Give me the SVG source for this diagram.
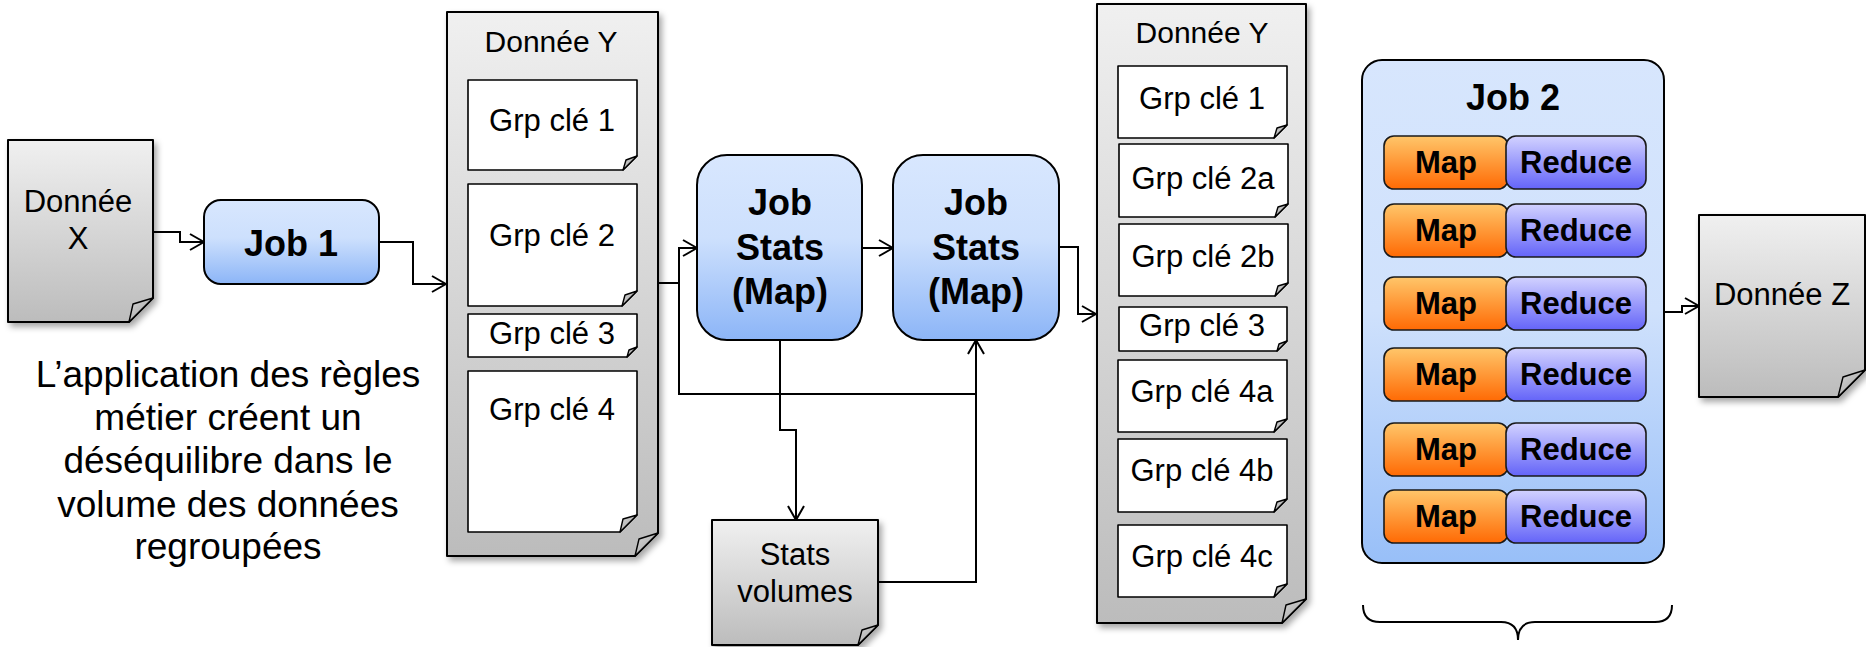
<svg xmlns="http://www.w3.org/2000/svg" width="1866" height="647" viewBox="0 0 1866 647">
  <defs>
    <linearGradient id="docGrad" x1="0" y1="0" x2="0" y2="1">
      <stop offset="0" stop-color="#f0f0f0"/>
      <stop offset="1" stop-color="#bcbcbc"/>
    </linearGradient>
    <linearGradient id="foldGrad" x1="0" y1="0" x2="1" y2="1">
      <stop offset="0" stop-color="#d8d8d8"/>
      <stop offset="1" stop-color="#9c9c9c"/>
    </linearGradient>
    <linearGradient id="jobGrad" x1="0" y1="0" x2="0" y2="1">
      <stop offset="0" stop-color="#d8e7fe"/>
      <stop offset="0.45" stop-color="#cde0fd"/>
      <stop offset="1" stop-color="#8cb5f7"/>
    </linearGradient>
    <linearGradient id="job2Grad" x1="0" y1="0" x2="0" y2="1">
      <stop offset="0" stop-color="#d7e6fd"/>
      <stop offset="0.5" stop-color="#cfe1fc"/>
      <stop offset="1" stop-color="#98bff8"/>
    </linearGradient>
    <linearGradient id="mapGrad" x1="0" y1="0" x2="0" y2="1">
      <stop offset="0" stop-color="#ffc66a"/>
      <stop offset="1" stop-color="#ff6a04"/>
    </linearGradient>
    <linearGradient id="redGrad" x1="0" y1="0" x2="0" y2="1">
      <stop offset="0" stop-color="#d2d2ff"/>
      <stop offset="1" stop-color="#6464f8"/>
    </linearGradient>
    <filter id="shadow" x="-10%" y="-10%" width="130%" height="130%">
      <feDropShadow dx="3" dy="4" stdDeviation="3" flood-color="#000" flood-opacity="0.35"/>
    </filter>
    <marker id="arrow" viewBox="0 0 16 18" refX="15" refY="9" markerWidth="16" markerHeight="18" markerUnits="userSpaceOnUse" orient="auto">
      <path d="M1,1 L15,9 L1,17" fill="none" stroke="#000" stroke-width="2"/>
    </marker>
    <style>
      text { font-family: "Liberation Sans", Arial, sans-serif; fill: #000; text-anchor: middle; }
      .t31 { font-size: 31px; }
      .t30 { font-size: 30px; }
      .t37 { font-size: 37px; }
      .b36 { font-size: 36px; font-weight: bold; }
      .b31 { font-size: 31px; font-weight: bold; }
      .doc { fill: url(#docGrad); stroke: #000; stroke-width: 2; stroke-linejoin: round; }
      .sheet { fill: #fff; stroke: #000; stroke-width: 1.6; stroke-linejoin: round; }
      .fold { fill: url(#foldGrad); stroke: #000; stroke-width: 1.4; stroke-linejoin: round; }
      .job { fill: url(#jobGrad); stroke: #000; stroke-width: 2; }
      .job2 { fill: url(#job2Grad); stroke: #000; stroke-width: 2; }
      .map { fill: url(#mapGrad); stroke: #1a1a1a; stroke-width: 1.6; }
      .red { fill: url(#redGrad); stroke: #1a1a1a; stroke-width: 1.6; }
      .wire { fill: none; stroke: #000; stroke-width: 2; }
    </style>
  </defs>

  <!-- input data X -->
  <g id="donnee-x">
    <polygon class="doc" filter="url(#shadow)" points="8,140 153,140 153,298 129,322 8,322"/>
    <polygon class="fold" points="153,298 133,304 129,322"/>
    <text class="t31" x="78" y="212">Donnée</text>
    <text class="t31" x="78" y="249">X</text>
  </g>

  <!-- job 1 -->
  <g id="job1">
    <rect class="job" x="204" y="200" width="175" height="84" rx="17"/>
    <text class="b36" x="291" y="256">Job 1</text>
  </g>

  <!-- explanatory note -->
  <g id="note">
    <text class="t37" x="228" y="387">L’application des règles</text>
    <text class="t37" x="228" y="430">métier créent un</text>
    <text class="t37" x="228" y="473">déséquilibre dans le</text>
    <text class="t37" x="228" y="517">volume des données</text>
    <text class="t37" x="228" y="559">regroupées</text>
  </g>

  <!-- grouped data Y (unbalanced) -->
  <g id="donnee-y1">
    <polygon class="doc" filter="url(#shadow)" points="447,12 658,12 658,533 635,556 447,556"/>
    <polygon class="fold" points="658,533 639,539 635,556"/>
    <text class="t30" x="551" y="52">Donnée Y</text>
    <g id="y1-grp1">
      <polygon class="sheet" points="468,80 637,80 637,156 623,170 468,170"/>
      <polygon class="fold" points="637,156 626,160 623,170"/>
      <text class="t31" x="552" y="131">Grp clé 1</text>
    </g>
    <g id="y1-grp2">
      <polygon class="sheet" points="468,184 637,184 637,291 622,306 468,306"/>
      <polygon class="fold" points="637,291 625,295 622,306"/>
      <text class="t31" x="552" y="246">Grp clé 2</text>
    </g>
    <g id="y1-grp3">
      <polygon class="sheet" points="468,314 637,314 637,347 627,357 468,357"/>
      <polygon class="fold" points="637,347 629,350 627,357"/>
      <text class="t31" x="552" y="344">Grp clé 3</text>
    </g>
    <g id="y1-grp4">
      <polygon class="sheet" points="468,371 637,371 637,515 620,532 468,532"/>
      <polygon class="fold" points="637,515 623,519 620,532"/>
      <text class="t31" x="552" y="420">Grp clé 4</text>
    </g>
  </g>

  <!-- stats jobs -->
  <g id="job-stats-1">
    <rect class="job" x="697" y="155" width="165" height="185" rx="30"/>
    <text class="b36" x="780" y="215">Job</text>
    <text class="b36" x="780" y="260">Stats</text>
    <text class="b36" x="780" y="304">(Map)</text>
  </g>
  <g id="job-stats-2">
    <rect class="job" x="893" y="155" width="166" height="185" rx="30"/>
    <text class="b36" x="976" y="215">Job</text>
    <text class="b36" x="976" y="260">Stats</text>
    <text class="b36" x="976" y="304">(Map)</text>
  </g>

  <!-- volume statistics -->
  <g id="stats-volumes">
    <polygon class="doc" filter="url(#shadow)" points="712,520 878,520 878,625 858,645 712,645"/>
    <polygon class="fold" points="878,625 862,630 858,645"/>
    <text class="t31" x="795" y="565">Stats</text>
    <text class="t31" x="795" y="602">volumes</text>
  </g>

  <!-- grouped data Y (rebalanced) -->
  <g id="donnee-y2">
    <polygon class="doc" filter="url(#shadow)" points="1097,4 1306,4 1306,599 1282,623 1097,623"/>
    <polygon class="fold" points="1306,599 1286,605 1282,623"/>
    <text class="t30" x="1202" y="43">Donnée Y</text>
    <g id="y2-grp1">
      <polygon class="sheet" points="1118,66 1287,66 1287,125 1274,138 1118,138"/>
      <polygon class="fold" points="1287,125 1277,128 1274,138"/>
      <text class="t31" x="1202" y="109">Grp clé 1</text>
    </g>
    <g id="y2-grp2a">
      <polygon class="sheet" points="1119,144 1288,144 1288,204 1275,217 1119,217"/>
      <polygon class="fold" points="1288,204 1278,207 1275,217"/>
      <text class="t31" x="1203" y="189">Grp clé 2a</text>
    </g>
    <g id="y2-grp2b">
      <polygon class="sheet" points="1119,224 1288,224 1288,283 1275,296 1119,296"/>
      <polygon class="fold" points="1288,283 1278,286 1275,296"/>
      <text class="t31" x="1203" y="267">Grp clé 2b</text>
    </g>
    <g id="y2-grp3">
      <polygon class="sheet" points="1119,307 1287,307 1287,341 1277,351 1119,351"/>
      <polygon class="fold" points="1287,341 1279,344 1277,351"/>
      <text class="t31" x="1202" y="336">Grp clé 3</text>
    </g>
    <g id="y2-grp4a">
      <polygon class="sheet" points="1118,360 1287,360 1287,419 1274,432 1118,432"/>
      <polygon class="fold" points="1287,419 1277,422 1274,432"/>
      <text class="t31" x="1202" y="402">Grp clé 4a</text>
    </g>
    <g id="y2-grp4b">
      <polygon class="sheet" points="1118,439 1287,439 1287,499 1274,512 1118,512"/>
      <polygon class="fold" points="1287,499 1277,502 1274,512"/>
      <text class="t31" x="1202" y="481">Grp clé 4b</text>
    </g>
    <g id="y2-grp4c">
      <polygon class="sheet" points="1118,525 1287,525 1287,584 1274,597 1118,597"/>
      <polygon class="fold" points="1287,584 1277,587 1274,597"/>
      <text class="t31" x="1202" y="567">Grp clé 4c</text>
    </g>
  </g>

  <!-- job 2 with parallel map/reduce tasks -->
  <g id="job2">
    <rect class="job2" x="1362" y="60" width="302" height="503" rx="20"/>
    <text class="b36" x="1513" y="110">Job 2</text>
    <g id="mr1">
      <rect class="map" x="1384" y="136" width="124" height="53" rx="10"/>
      <rect class="red" x="1506" y="136" width="140" height="53" rx="10"/>
      <text class="b31" x="1446" y="173">Map</text>
      <text class="b31" x="1576" y="173">Reduce</text>
    </g>
    <g id="mr2">
      <rect class="map" x="1384" y="204" width="124" height="53" rx="10"/>
      <rect class="red" x="1506" y="204" width="140" height="53" rx="10"/>
      <text class="b31" x="1446" y="241">Map</text>
      <text class="b31" x="1576" y="241">Reduce</text>
    </g>
    <g id="mr3">
      <rect class="map" x="1384" y="277" width="124" height="53" rx="10"/>
      <rect class="red" x="1506" y="277" width="140" height="53" rx="10"/>
      <text class="b31" x="1446" y="314">Map</text>
      <text class="b31" x="1576" y="314">Reduce</text>
    </g>
    <g id="mr4">
      <rect class="map" x="1384" y="348" width="124" height="53" rx="10"/>
      <rect class="red" x="1506" y="348" width="140" height="53" rx="10"/>
      <text class="b31" x="1446" y="385">Map</text>
      <text class="b31" x="1576" y="385">Reduce</text>
    </g>
    <g id="mr5">
      <rect class="map" x="1384" y="423" width="124" height="53" rx="10"/>
      <rect class="red" x="1506" y="423" width="140" height="53" rx="10"/>
      <text class="b31" x="1446" y="460">Map</text>
      <text class="b31" x="1576" y="460">Reduce</text>
    </g>
    <g id="mr6">
      <rect class="map" x="1384" y="490" width="124" height="53" rx="10"/>
      <rect class="red" x="1506" y="490" width="140" height="53" rx="10"/>
      <text class="b31" x="1446" y="527">Map</text>
      <text class="b31" x="1576" y="527">Reduce</text>
    </g>
  </g>

  <!-- brace under job 2 -->
  <g id="brace">
    <path class="wire" d="M1363,605 Q1363,622 1380,622 L1501,622 Q1518,622 1518,640 Q1518,622 1535,622 L1655,622 Q1672,622 1672,605"/>
  </g>

  <!-- output data Z -->
  <g id="donnee-z">
    <polygon class="doc" filter="url(#shadow)" points="1699,215 1865,215 1865,370 1838,397 1699,397"/>
    <polygon class="fold" points="1865,370 1843,377 1838,397"/>
    <text class="t31" x="1782" y="305">Donnée Z</text>
  </g>

  <!-- connectors -->
  <g id="connectors">
    <path class="wire" marker-end="url(#arrow)" d="M153,232 H180 V242 H204"/>
    <path class="wire" marker-end="url(#arrow)" d="M379,242 H413 V284 H446"/>
    <path class="wire" marker-end="url(#arrow)" d="M658,283 H679 V248 H697"/>
    <path class="wire" d="M679,283 V394 H976"/>
    <path class="wire" marker-end="url(#arrow)" d="M780,340 V430 H796 V520"/>
    <path class="wire" marker-end="url(#arrow)" d="M878,582 H976 V340"/>
    <path class="wire" marker-end="url(#arrow)" d="M862,248 H893"/>
    <path class="wire" marker-end="url(#arrow)" d="M1059,247 H1078 V314 H1096"/>
    <path class="wire" marker-end="url(#arrow)" d="M1664,312 H1682 V306 H1699"/>
  </g>
</svg>
